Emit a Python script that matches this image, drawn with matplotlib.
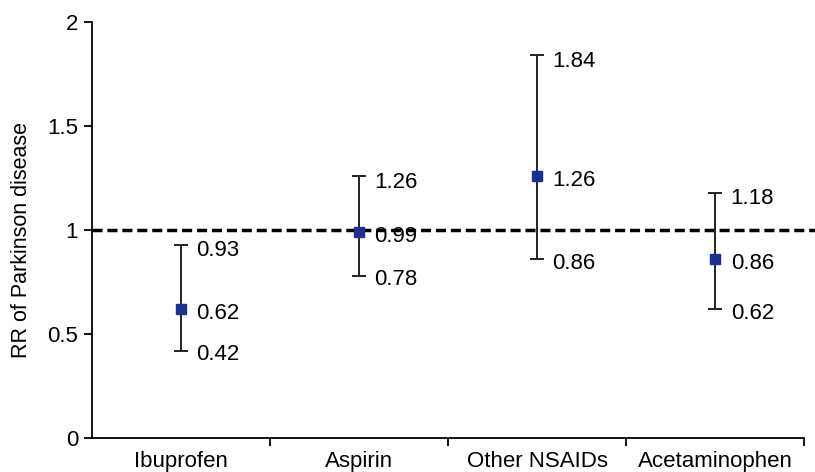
import matplotlib.pyplot as plt
from matplotlib.ticker import FixedLocator

plt.rcParams['font.family'] = ['Liberation Sans', 'DejaVu Sans']

drugs = ['Ibuprofen', 'Aspirin', 'Other NSAIDs', 'Acetaminophen']
rr = [0.62, 0.99, 1.26, 0.86]
lower = [0.42, 0.78, 0.86, 0.62]
upper = [0.93, 1.26, 1.84, 1.18]

fig = plt.figure(figsize=(8.15, 4.72), dpi=100)
ax = fig.add_axes([0.113, 0.072, 0.874, 0.881])

x = list(range(len(drugs)))
err = [[r - lo for r, lo in zip(rr, lower)], [up - r for r, up in zip(rr, upper)]]
ax.errorbar(x, rr, yerr=err, fmt='s', color='#1f2f8f', ecolor='#222222',
            elinewidth=1.4, capsize=5, capthick=1.4, markersize=7.5, zorder=3)

# reference line at RR = 1, runs a little past the axis end
ax.plot([-0.5, 3.56], [1, 1], color='black', lw=2.5,
        linestyle=(0, (2.9, 1.4)), clip_on=False, zorder=2)

for i in x:
    for val, dy in ((upper[i], -0.03), (rr[i], -0.02), (lower[i], -0.02)):
        ax.annotate('%.2f' % val, (i, val + dy), xytext=(11, 0),
                    textcoords='offset points', va='center', ha='left',
                    fontsize=16)

ax.set_xlim(-0.5, 3.5)
ax.set_ylim(0, 2)
ax.set_yticks([0, 0.5, 1, 1.5, 2])
ax.set_yticklabels(['0', '0.5', '1', '1.5', '2'])
ax.set_xticks(x)
ax.set_xticklabels(drugs)
ax.xaxis.set_minor_locator(FixedLocator([0.5, 1.5, 2.5, 3.5]))
ax.tick_params(axis='x', which='major', length=0, pad=9, labelsize=16)
ax.tick_params(axis='x', which='minor', length=6, width=1.3, direction='out')
ax.tick_params(axis='y', length=6, width=1.3, direction='out', pad=4, labelsize=16)

ax.set_ylabel('RR of Parkinson disease', fontsize=15.5)
ax.yaxis.set_label_coords(-0.084, 0.476)

for s in ['top', 'right']:
    ax.spines[s].set_visible(False)
for s in ['left', 'bottom']:
    ax.spines[s].set_linewidth(1.3)

fig.savefig('out.png', dpi=100)
